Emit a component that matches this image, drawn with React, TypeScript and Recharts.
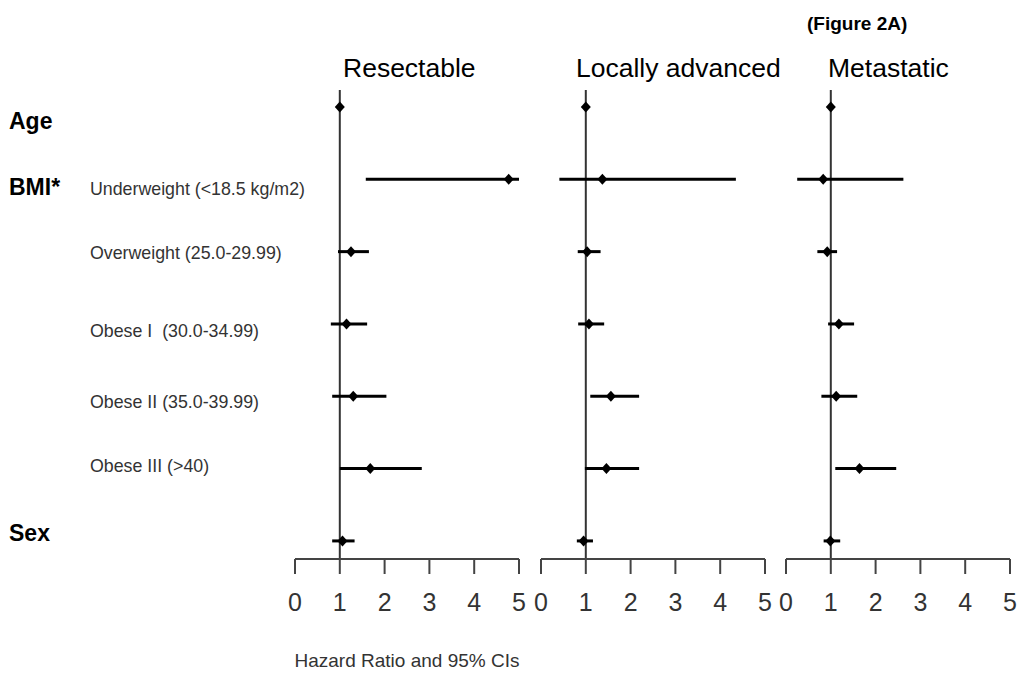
import React from "react";
import { ScatterChart, Scatter, XAxis, YAxis, ErrorBar, ReferenceLine } from "recharts";

const FONT = '"Liberation Sans", Arial, sans-serif';

// Row index 0..6 from top to bottom
const rowIndex = [0, 1, 2, 3, 4, 5, 6];
const rowGroups = ["Age", "BMI*", "", "", "", "", "Sex"];
const rowLabels = [
  "",
  "Underweight (<18.5 kg/m2)",
  "Overweight (25.0-29.99)",
  "Obese I  (30.0-34.99)",
  "Obese II (35.0-39.99)",
  "Obese III (>40)",
  "",
];
const hrTicks = [0, 1, 2, 3, 4, 5];

// Resectable
const resectableHR = [1.0, 4.77, 1.25, 1.15, 1.3, 1.68, 1.06];
const resectableLo = [0.99, 1.58, 0.96, 0.8, 0.83, 1.0, 0.83];
const resectableHi = [1.01, 5.0, 1.65, 1.61, 2.04, 2.83, 1.33];

// Locally advanced
const locallyHR = [1.0, 1.37, 1.03, 1.07, 1.56, 1.46, 0.95];
const locallyLo = [0.99, 0.41, 0.82, 0.83, 1.1, 0.98, 0.8];
const locallyHi = [1.01, 4.35, 1.33, 1.41, 2.19, 2.19, 1.16];

// Metastatic
const metastaticHR = [1.0, 0.83, 0.92, 1.18, 1.12, 1.64, 0.99];
const metastaticLo = [0.99, 0.25, 0.7, 0.94, 0.79, 1.1, 0.84];
const metastaticHi = [1.01, 2.62, 1.14, 1.52, 1.59, 2.46, 1.21];

// label nudges relative to the row centre (the original labels are not quite aligned)
const groupNudge = [14, 8, 0, 0, 0, 0, -8];
const labelNudge = [0, 10, 1, 7, 6, -3, 0];

function buildRows(hr: number[], lo: number[], hi: number[]) {
  return rowIndex.map((row, i) => ({
    row,
    hr: hr[i],
    err: [hr[i] - lo[i], hi[i] - hr[i]],
  }));
}

const Diamond = (props: any) => {
  const { cx, cy } = props;
  if (cx == null || cy == null) return null;
  return (
    <polygon
      points={`${cx},${cy - 5.5} ${cx + 5},${cy} ${cx},${cy + 5.5} ${cx - 5},${cy}`}
      fill="#000"
    />
  );
};

const RowTick = (props: any) => {
  const { y, payload } = props;
  const i = payload.value as number;
  return (
    <g>
      {rowGroups[i] && (
        <text
          x={9}
          y={y + groupNudge[i]}
          dominantBaseline="central"
          fontFamily={FONT}
          fontWeight="bold"
          fontSize={23}
          fill="#000"
        >
          {rowGroups[i]}
        </text>
      )}
      {rowLabels[i] && (
        <text
          x={90}
          y={y + labelNudge[i]}
          dominantBaseline="central"
          fontFamily={FONT}
          fontSize={17.8}
          fill="#333"
          style={{ whiteSpace: "pre" }}
        >
          {rowLabels[i]}
        </text>
      )}
    </g>
  );
};

interface PanelProps {
  hr: number[];
  lo: number[];
  hi: number[];
  left: number;
  width: number;
  margin: { top: number; right: number; bottom: number; left: number };
  first?: boolean;
}

function ForestPanel({ hr, lo, hi, left, width, margin, first }: PanelProps) {
  const data = buildRows(hr, lo, hi);
  return (
    <div style={{ position: "absolute", left, top: 0 }}>
      <ScatterChart width={width} height={677} margin={margin}>
        <XAxis
          type="number"
          dataKey="hr"
          domain={[0, 5]}
          ticks={hrTicks}
          interval={0}
          allowDataOverflow
          height={118}
          tickSize={15}
          tickMargin={19}
          axisLine={{ stroke: "#444", strokeWidth: 2 }}
          tickLine={{ stroke: "#444", strokeWidth: 2 }}
          tick={{ fill: "#333", fontSize: 25, fontFamily: FONT }}
          label={
            first
              ? {
                  value: "Hazard Ratio and 95% CIs",
                  position: "insideBottom",
                  offset: 10,
                  fill: "#333",
                  fontSize: 19,
                  fontFamily: FONT,
                }
              : undefined
          }
        />
        <YAxis
          type="number"
          dataKey="row"
          reversed
          domain={[-0.235, 6.25]}
          ticks={rowIndex}
          interval={0}
          hide={!first}
          width={first ? 295 : 0}
          axisLine={false}
          tickLine={false}
          tick={<RowTick />}
        />
        <ReferenceLine x={1} stroke="#333" strokeWidth={2} />
        <Scatter data={data} shape={<Diamond />} fill="#000" isAnimationActive={false}>
          <ErrorBar dataKey="err" direction="x" width={0} stroke="#000" strokeWidth={3} />
        </Scatter>
      </ScatterChart>
    </div>
  );
}

const titleStyle: React.CSSProperties = {
  position: "absolute",
  fontFamily: FONT,
  fontSize: 26.5,
  color: "#000",
  whiteSpace: "nowrap",
  lineHeight: "30px",
};

export default function App() {
  return (
    <div style={{ position: "absolute", left: 0, top: 0, width: 1018, height: 677, background: "#fff" }}>
      <ForestPanel
        hr={resectableHR}
        lo={resectableLo}
        hi={resectableHi}
        left={0}
        width={530}
        margin={{ top: 90, right: 11, bottom: 0, left: 0 }}
        first
      />
      <ForestPanel
        hr={locallyHR}
        lo={locallyLo}
        hi={locallyHi}
        left={530}
        width={252}
        margin={{ top: 90, right: 17, bottom: 0, left: 11 }}
      />
      <ForestPanel
        hr={metastaticHR}
        lo={metastaticLo}
        hi={metastaticHi}
        left={775}
        width={243}
        margin={{ top: 90, right: 8, bottom: 0, left: 11 }}
      />
      <div style={{ ...titleStyle, left: 343, top: 53 }}>Resectable</div>
      <div style={{ ...titleStyle, left: 576, top: 53 }}>Locally advanced</div>
      <div style={{ ...titleStyle, left: 828, top: 53 }}>Metastatic</div>
      <div
        style={{
          position: "absolute",
          left: 807,
          top: 12,
          fontFamily: FONT,
          fontSize: 19,
          fontWeight: "bold",
          lineHeight: "24px",
          whiteSpace: "nowrap",
        }}
      >
        (Figure 2A)
      </div>
    </div>
  );
}
